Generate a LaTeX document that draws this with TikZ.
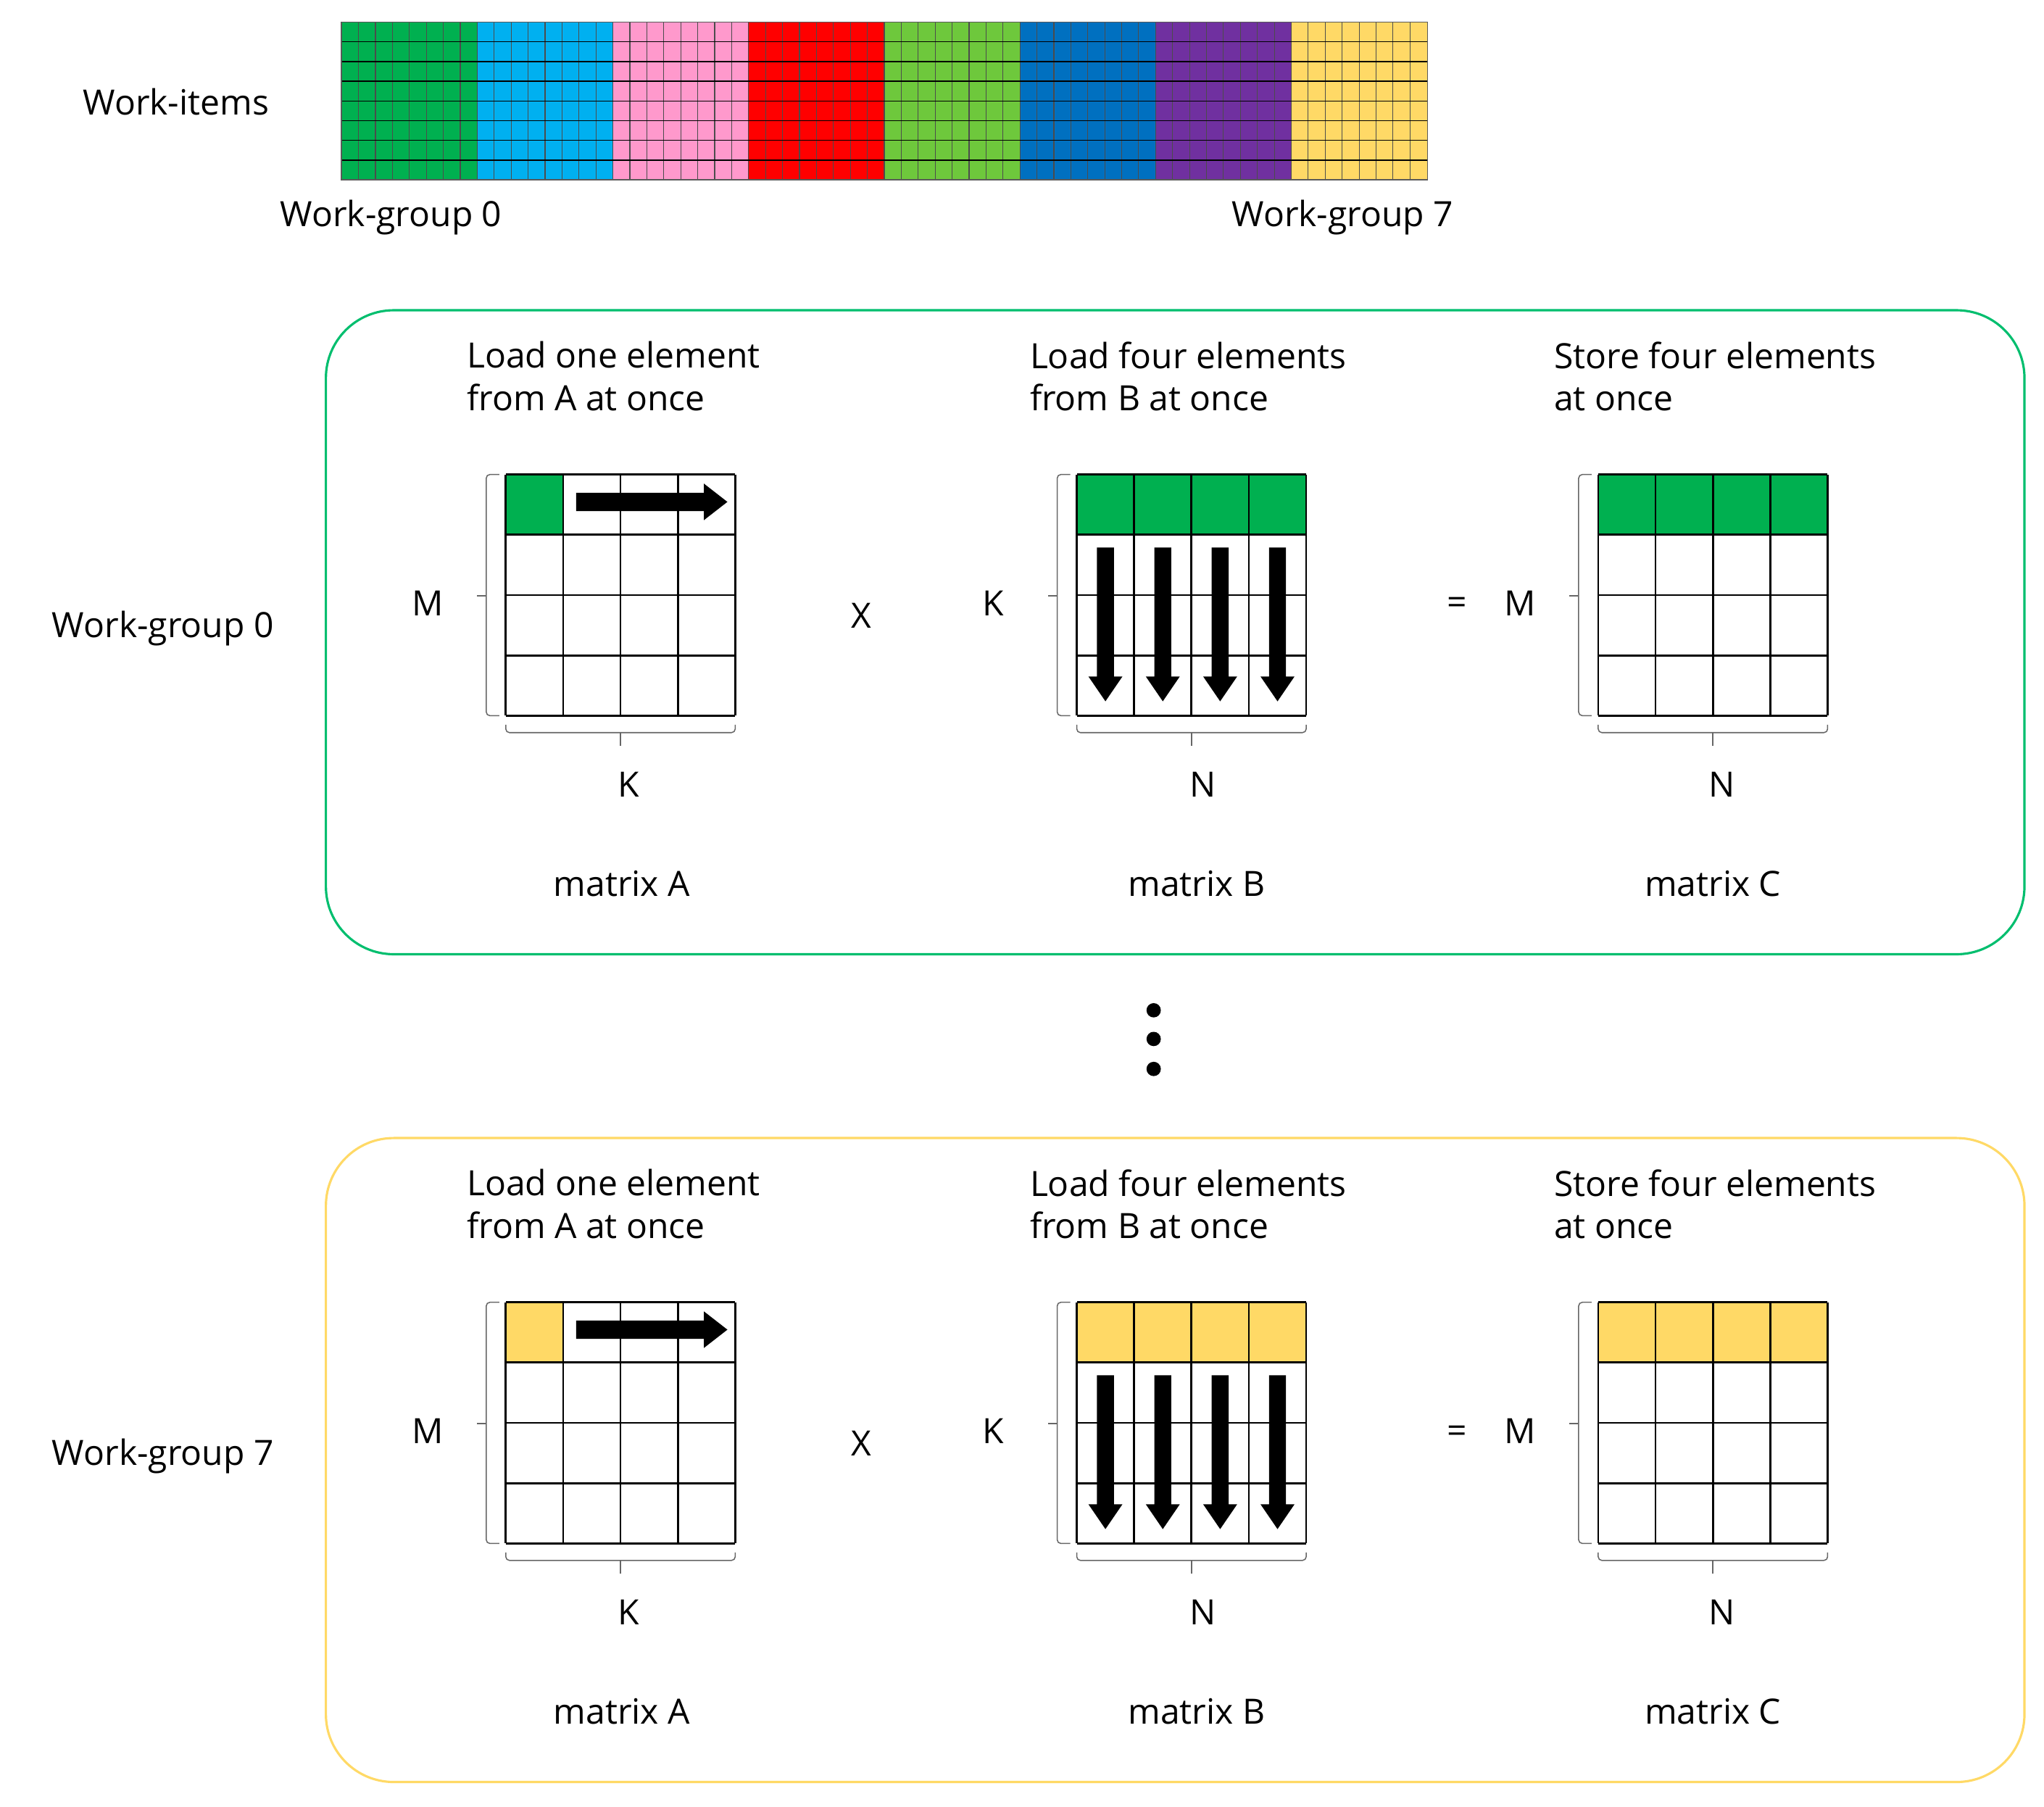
\documentclass[tikz,border=0pt]{standalone}
\usepackage{fontspec}
\setmainfont{Open Sans}
\begin{document}
\begin{tikzpicture}[x=0.05cm,y=-0.05cm,
  txt/.style={font=\fontsize{38}{46}\selectfont, inner sep=0pt},
  grid/.style={line width=2.2pt, draw=black},
  brk/.style={draw=gray!80!black, line width=1.2pt, rounded corners=4},
  box/.style={line width=2.5pt, rounded corners=2.6cm}]
\definecolor{cG}{RGB}{0,176,80}
\definecolor{cC}{RGB}{0,176,240}
\definecolor{cP}{RGB}{255,153,204}
\definecolor{cR}{RGB}{255,0,0}
\definecolor{cL}{RGB}{110,200,60}
\definecolor{cB}{RGB}{0,112,192}
\definecolor{cV}{RGB}{112,48,160}
\definecolor{cY}{RGB}{255,217,102}
\definecolor{cBoxG}{RGB}{0,190,110}
\useasboundingbox (0,0) rectangle (1568,1386);
% top bar
\foreach \c [count=\i from 0] in {cG,cC,cP,cR,cL,cB,cV,cY}{
  \fill[\c] (262+\i*104.1,17) rectangle (262+\i*104.1+104.1,138);
}
\foreach \k in {1,...,63} \draw[black!70, line width=0.9pt] (262+\k*13.01,17) -- (262+\k*13.01,138);
\foreach \k in {1,...,7} \draw[black, line width=1.1pt] (262,17+\k*15.125) -- (1095,17+\k*15.125);
\draw[gray!70!black, line width=1.2pt] (262,17) rectangle (1095,138);
\node[txt] (wi) at (135,78) {Work-items};
\node[txt] (wg0t) at (300,167) {Work-group 0};
\node[txt] (wg7t) at (1030,167) {Work-group 7};
% dots
\foreach \yy in {775,797,820} \fill (885,\yy) circle (5.5);
% two boxes
\foreach \dy/\col/\bc/\lab in {0/cG/cBoxG/0, 635/cY/cY/7}{
\begin{scope}[yshift=-\dy*0.05cm]
\draw[box, draw=\bc] (250,238) rectangle (1553,732);
\node[txt] (wg\lab) at (125,482) {Work-group \lab};
\node[txt, align=left, anchor=north west] (la\lab) at (358,262) {Load one element\\from A at once};
\node[txt, align=left, anchor=north west] (lb\lab) at (790,262) {Load four elements\\from B at once};
\node[txt, align=left, anchor=north west] (lc\lab) at (1192,262) {Store four elements\\at once};
\fill[\col] (388,364) rectangle (432,410);
\fill[\col] (826,364) rectangle (1002,410);
\fill[\col] (1226,364) rectangle (1402,410);
\foreach \xo in {388,826,1226}{
  \foreach \k in {0,...,4}{
    \draw[grid] (\xo+\k*44,364) -- (\xo+\k*44,549);
    \draw[grid] (\xo,364+\k*46.25) -- (\xo+176,364+\k*46.25);
  }
  \draw[brk] (\xo-5,364) -- (\xo-15,364) -- (\xo-15,549) -- (\xo-5,549);
  \draw[brk] (\xo-15,457) -- (\xo-22,457);
  \draw[brk] (\xo,556) -- (\xo,562) -- (\xo+176,562) -- (\xo+176,556);
  \draw[brk] (\xo+88,562) -- (\xo+88,572);
}
\fill (442,378) -- (540,378) -- (540,371) -- (558,385) -- (540,399) -- (540,392) -- (442,392) -- cycle;
\foreach \k in {0,...,3}{
  \pgfmathsetmacro{\cx}{848+\k*44}
  \fill (\cx-6.5,420) -- (\cx+6.5,420) -- (\cx+6.5,519) -- (\cx+13,519) -- (\cx,538) -- (\cx-13,519) -- (\cx-6.5,519) -- cycle;
}
\node[txt] (mA\lab) at (328,463) {M};
\node[txt] (kA\lab) at (482,602) {K};
\node[txt] (nA\lab) at (477,678) {matrix A};
\node[txt] (x\lab) at (661,472) {X};
\node[txt] (kB\lab) at (762,463) {K};
\node[txt] (nB\lab) at (923,602) {N};
\node[txt] (mB\lab) at (918,678) {matrix B};
\node[txt] (eq\lab) at (1118,465) {=};
\node[txt] (mC\lab) at (1166,463) {M};
\node[txt] (nC\lab) at (1321,602) {N};
\node[txt] (mmC\lab) at (1314,678) {matrix C};
\end{scope}}
\end{tikzpicture}
\end{document}
